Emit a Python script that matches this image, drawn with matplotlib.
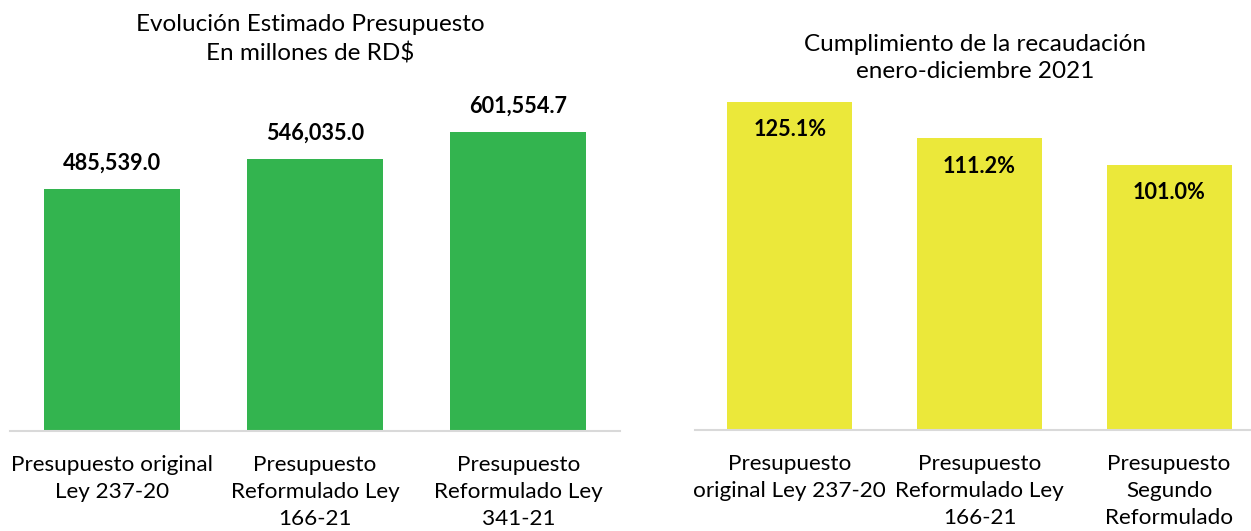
import matplotlib.pyplot as plt

## Data ##
left_cats = ["Presupuesto original\nLey 237-20",
             "Presupuesto\nReformulado Ley\n166-21",
             "Presupuesto\nReformulado Ley\n341-21"]
left_vals = [485539.0, 546035.0, 601554.7]

right_cats = ["Presupuesto\noriginal Ley 237-20",
              "Presupuesto\nReformulado Ley\n166-21",
              "Presupuesto\nSegundo\nReformulado"]
right_vals = [125.1, 111.2, 101.0]

left_title = "Evolución Estimado Presupuesto\nEn millones de RD$"
right_title = "Cumplimiento de la recaudación\nenero-diciembre 2021"

plt.rcParams['font.family'] = ['Lato', 'DejaVu Sans']

W, H = 1251, 531
fig = plt.figure(figsize=(W / 100, H / 100), dpi=100)

def style(ax):
    for s in ['top', 'right', 'left']:
        ax.spines[s].set_visible(False)
    ax.spines['bottom'].set_color('#D9D9D9')
    ax.spines['bottom'].set_linewidth(1.5)
    ax.set_yticks([])
    ax.tick_params(axis='x', length=0, pad=17, labelsize=16.2)
    ax.set_facecolor('none')

## Left panel ##
ax1 = fig.add_axes([10 / W, (H - 431) / H, 610 / W, 336 / H])
x1 = range(len(left_vals))
ax1.bar(x1, left_vals, width=0.67, color='#33B44F')
ax1.set_xlim(-0.5, 2.5)
ax1.set_ylim(0, 675000)
ax1.set_xticks(list(x1))
ax1.set_xticklabels(left_cats, linespacing=1.45)
style(ax1)
for i, v in enumerate(left_vals):
    ax1.annotate(f"{v:,.1f}", (i, v), xytext=(0, 18.5), textcoords='offset points',
                 ha='center', va='center', fontsize=15.6, fontweight='bold')

## Right panel ##
ax2 = fig.add_axes([695 / W, (H - 430) / H, 569 / W, 335 / H])
x2 = range(len(right_vals))
ax2.bar(x2, right_vals, width=0.66, color='#EBE83A')
ax2.set_xlim(-0.5, 2.5)
ax2.set_ylim(0, 127.7)
ax2.set_xticks(list(x2))
ax2.set_xticklabels(right_cats, linespacing=1.45)
style(ax2)
for i, v in enumerate(right_vals):
    ax2.annotate(f"{v:.1f}%", (i, v), xytext=(0, -20), textcoords='offset points',
                 ha='center', va='center', fontsize=15.6, fontweight='bold')

## Titles ##
fig.text(310 / W, 1 - 39 / H, left_title, ha='center', va='center',
         fontsize=17.5, linespacing=1.4)
fig.text(975 / W, 1 - 58 / H, right_title, ha='center', va='center',
         fontsize=17.5, linespacing=1.3)

plt.savefig("out.png", dpi=100)
